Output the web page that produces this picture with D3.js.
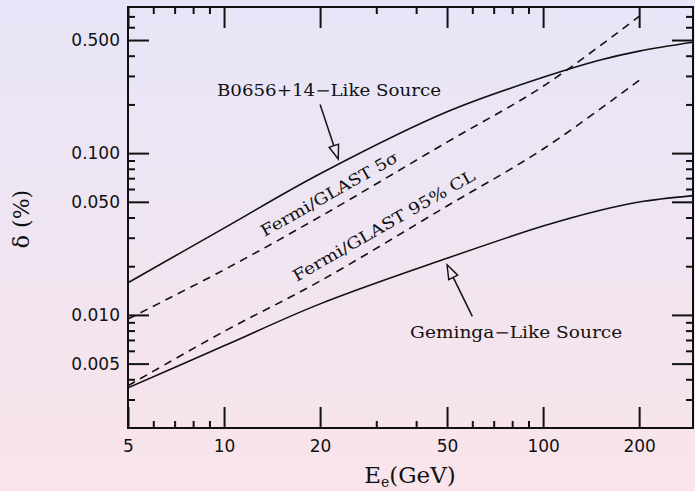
<!DOCTYPE html>
<html><head><meta charset="utf-8">
<script src="https://cdn.jsdelivr.net/npm/d3@7"></script>
<style>html,body{margin:0;padding:0;overflow:hidden;background:#f0e5f2}svg{display:block}</style>
</head><body>
<script>
// ---------- data ----------
const pulsarEnergy = [5, 10, 20, 50, 100, 150, 200, 295];
const b0656Delta   = [0.0158, 0.0344, 0.0745, 0.180, 0.294, 0.375, 0.427, 0.484];
const gemingaDelta = [0.00354, 0.00644, 0.0117, 0.0224, 0.0354, 0.0442, 0.0499, 0.0546];

const fermiEnergy  = [5, 10, 20, 50, 100, 200];
const fermi5Sigma  = [0.00944, 0.019, 0.0405, 0.117, 0.259, 0.70];
const fermi95CL    = [0.00365, 0.0079, 0.0162, 0.0471, 0.106, 0.282];

const xMajorTicks = [5, 10, 20, 50, 100, 200];
const xMinorTicks = [6, 7, 8, 9, 30, 40, 60, 70, 80, 90];
const yMajorTicks = [0.005, 0.01, 0.05, 0.1, 0.5];
const yMajorLabels = ["0.005", "0.010", "0.050", "0.100", "0.500"];
const yMinorTicks = [0.003, 0.004, 0.006, 0.007, 0.008, 0.009, 0.02, 0.03, 0.04,
                     0.06, 0.07, 0.08, 0.09, 0.2, 0.3, 0.4, 0.6, 0.7];

const labelB0656   = "B0656+14\u2212Like Source";
const labelGeminga = "Geminga\u2212Like Source";
const label5Sigma  = "Fermi/GLAST 5\u03c3";
const label95CL    = "Fermi/GLAST 95% CL";

// ---------- layout ----------
const W = 695, H = 491;
const M = {left: 128, right: 693, top: 7, bottom: 428};

const svg = d3.select("body").append("svg").attr("width", W).attr("height", H);
const defs = svg.append("defs");
const grad = defs.append("linearGradient").attr("id", "bg").attr("x1", 0).attr("y1", 0).attr("x2", 0).attr("y2", 1);
grad.append("stop").attr("offset", "0%").attr("stop-color", "#e7e5f8");
grad.append("stop").attr("offset", "100%").attr("stop-color", "#f9e4ea");
svg.append("rect").attr("width", W).attr("height", H).attr("fill", "url(#bg)");

const x = d3.scaleLog().domain([5, 295]).range([M.left, M.right]);
const y = d3.scaleLog().domain([0.002, 0.8]).range([M.bottom, M.top]);

const tickFont = "'DejaVu Sans', sans-serif";
const serif = "'DejaVu Serif', serif";

function styleAxis(g) {
  g.select(".domain").remove();
  g.selectAll(".tick line").attr("stroke", "#111").attr("stroke-width", 2);
  g.selectAll(".tick text").attr("fill", "#111").style("font-family", tickFont).style("font-size", "17px");
}

// bottom
svg.append("g").attr("transform", `translate(0,${M.bottom})`)
  .call(d3.axisBottom(x).tickValues(xMajorTicks).tickFormat(d3.format("d")).tickSizeInner(-21).tickSizeOuter(0).tickPadding(12))
  .call(styleAxis);
svg.append("g").attr("transform", `translate(0,${M.bottom})`)
  .call(d3.axisBottom(x).tickValues(xMinorTicks).tickFormat("").tickSizeInner(-7).tickSizeOuter(0))
  .call(styleAxis);
// top
svg.append("g").attr("transform", `translate(0,${M.top})`)
  .call(d3.axisTop(x).tickValues(xMajorTicks).tickFormat("").tickSizeInner(-21).tickSizeOuter(0))
  .call(styleAxis);
svg.append("g").attr("transform", `translate(0,${M.top})`)
  .call(d3.axisTop(x).tickValues(xMinorTicks).tickFormat("").tickSizeInner(-7).tickSizeOuter(0))
  .call(styleAxis);
// left
svg.append("g").attr("transform", `translate(${M.left},0)`)
  .call(d3.axisLeft(y).tickValues(yMajorTicks).tickFormat((d, i) => yMajorLabels[i]).tickSizeInner(-21).tickSizeOuter(0).tickPadding(8))
  .call(styleAxis);
svg.append("g").attr("transform", `translate(${M.left},0)`)
  .call(d3.axisLeft(y).tickValues(yMinorTicks).tickFormat("").tickSizeInner(-7).tickSizeOuter(0))
  .call(styleAxis);
// right
svg.append("g").attr("transform", `translate(${M.right},0)`)
  .call(d3.axisRight(y).tickValues(yMajorTicks).tickFormat("").tickSizeInner(-21).tickSizeOuter(0))
  .call(styleAxis);
svg.append("g").attr("transform", `translate(${M.right},0)`)
  .call(d3.axisRight(y).tickValues(yMinorTicks).tickFormat("").tickSizeInner(-7).tickSizeOuter(0))
  .call(styleAxis);

// frame
svg.append("rect").attr("x", M.left).attr("y", M.top)
  .attr("width", M.right - M.left).attr("height", M.bottom - M.top)
  .attr("fill", "none").attr("stroke", "#111").attr("stroke-width", 2);

// ---------- curves ----------
const clip = defs.append("clipPath").attr("id", "plotclip");
clip.append("rect").attr("x", M.left).attr("y", M.top).attr("width", M.right - M.left).attr("height", M.bottom - M.top);

function drawCurve(xs, ys, dashed) {
  const pts = xs.map((e, i) => [e, ys[i]]);
  const line = d3.line().x(d => x(d[0])).y(d => y(d[1])).curve(d3.curveCatmullRom.alpha(0.5));
  svg.append("path").attr("d", line(pts)).attr("clip-path", "url(#plotclip)")
    .attr("fill", "none").attr("stroke", "#111").attr("stroke-width", 1.6)
    .attr("stroke-dasharray", dashed ? "8,6" : null);
}
drawCurve(pulsarEnergy, b0656Delta, false);
drawCurve(pulsarEnergy, gemingaDelta, false);
drawCurve(fermiEnergy, fermi5Sigma, true);
drawCurve(fermiEnergy, fermi95CL, true);

// ---------- annotations ----------
function arrow(x0, y0, x1, y1) {
  const px0 = x(x0), py0 = y(y0), px1 = x(x1), py1 = y(y1);
  const dx = px1 - px0, dy = py1 - py0, L = Math.hypot(dx, dy);
  const ux = dx / L, uy = dy / L, hl = 14, hw = 5;
  const bx = px1 - ux * hl, by = py1 - uy * hl;
  svg.append("line").attr("x1", px0).attr("y1", py0).attr("x2", bx).attr("y2", by)
    .attr("stroke", "#111").attr("stroke-width", 1.5);
  svg.append("polygon")
    .attr("points", [[px1, py1], [bx - uy * hw, by + ux * hw], [bx + uy * hw, by - ux * hw]].map(p => p.join(",")).join(" "))
    .attr("fill", "none").attr("stroke", "#111").attr("stroke-width", 1.4);
}
arrow(20, 0.2, 22.8, 0.092);
arrow(60, 0.0098, 50, 0.0204);

function label(txt, ex, dv, len, angle) {
  svg.append("text").attr("x", 0).attr("y", 0)
    .attr("transform", `translate(${x(ex)},${y(dv)}) rotate(${angle})`)
    .attr("fill", "#111").style("font-family", serif).style("font-size", "16px")
    .attr("textLength", len).attr("lengthAdjust", "spacingAndGlyphs").text(txt);
}
label(labelB0656, 9.5, 0.225, 224, 0);
label(labelGeminga, 38.3, 0.00721, 212, 0);
label(label5Sigma, 13.4, 0.0303, 155, -29.5);
label(label95CL, 16.9, 0.016, 207, -29.8);

// ---------- axis titles ----------
const xt = svg.append("text").attr("x", 410).attr("y", 483).attr("text-anchor", "middle")
  .attr("fill", "#111").style("font-family", serif).style("font-size", "23px");
xt.append("tspan").text("E");
xt.append("tspan").attr("dy", 4).style("font-size", "14px").text("e");
xt.append("tspan").attr("dy", -4).text("(GeV)");

svg.append("text").attr("transform", "translate(29,219) rotate(-90)").attr("text-anchor", "middle")
  .attr("fill", "#111").style("font-family", serif).style("font-size", "22px").text("\u03b4 (%)");
</script>
</body></html>
